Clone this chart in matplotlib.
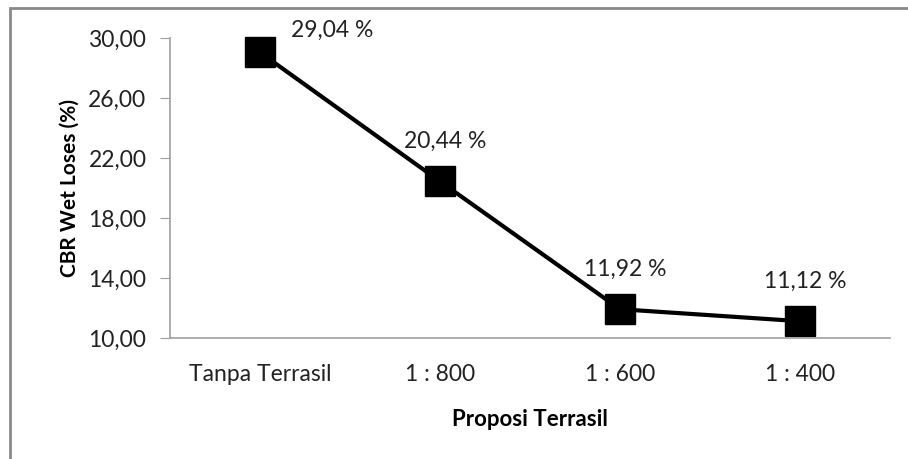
import matplotlib.pyplot as plt
from matplotlib.patches import Rectangle

categories = ["Tanpa Terrasil", "1 : 800", "1 : 600", "1 : 400"]
cbr_loss = [29.04, 20.44, 11.92, 11.12]
labels = ["29,04 %", "20,44 %", "11,92 %", "11,12 %"]
y_ticks = [10, 14, 18, 22, 26, 30]

plt.rcParams['font.family'] = ['Lato', 'DejaVu Sans']

fig = plt.figure(figsize=(9.08, 4.59), dpi=100)
ax = fig.add_axes([170 / 908, 1 - 338 / 459, 720 / 908, 300 / 459])

x = list(range(len(categories)))
ax.plot(x, cbr_loss, color="black", lw=3, marker="s", markersize=21,
        markerfacecolor="black", markeredgecolor="black", clip_on=False)

# data labels above points, first one pushed right
offsets = [(52, 16), (4, 29), (4, 29), (4, 29)]
for xi, yi, lab, off in zip(x, cbr_loss, labels, offsets):
    ax.annotate(lab, (xi, yi), xytext=off, textcoords="offset points",
                ha="center", va="center", fontsize=16.5, color="#222222")

ax.set_xlim(-0.5, len(categories) - 0.5)
ax.set_ylim(10, 30)
ax.set_xticks(x)
ax.set_xticklabels(categories, fontsize=16.5, color="#222222")
ax.set_yticks(y_ticks)
ax.set_yticklabels([f"{v:.2f}".replace(".", ",") for v in y_ticks], fontsize=16.5, color="#222222")
ax.tick_params(axis="x", length=0, pad=19)
ax.tick_params(axis="y", length=7, color="#a0a0a0", pad=10)

for s in ["top", "right"]:
    ax.spines[s].set_visible(False)
for s in ["left", "bottom"]:
    ax.spines[s].set_color("#a0a0a0")
    ax.spines[s].set_linewidth(1.2)

ax.set_xlabel("Proposi Terrasil", fontsize=16, fontweight="bold", labelpad=17)
ax.set_ylabel("CBR Wet Loses (%)", fontsize=15, fontweight="bold", labelpad=6)

# outer chart frame (partly cut off in the original)
fig.patches.append(Rectangle((10 / 908, -0.1), 1.1, 1 - 8 / 459 + 0.1,
                             transform=fig.transFigure, fill=False,
                             edgecolor="#8a8a8a", lw=2))

fig.savefig("out.png", dpi=100)
